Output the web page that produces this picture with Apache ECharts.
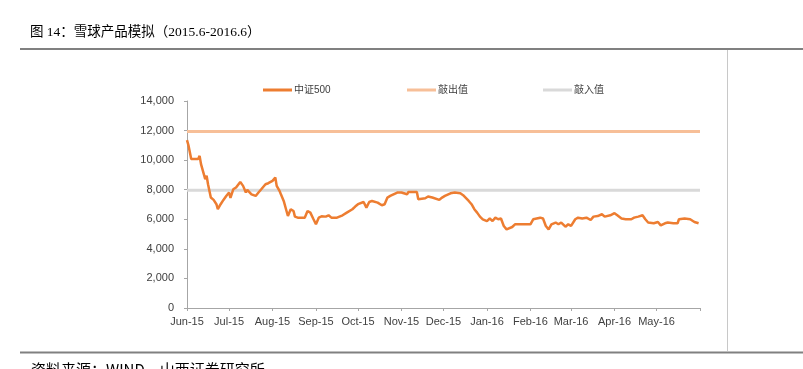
<!DOCTYPE html>
<html>
<head>
<meta charset="utf-8">
<script src="https://cdn.jsdelivr.net/npm/echarts@6/dist/echarts.min.js"></script>
<style>
  html, body { margin: 0; padding: 0; background: #fff; }
  #snowball { width: 803px; height: 369px; }
</style>
</head>
<body>
<div id="snowball"></div>
<script>
// 中证500 走势
var dates = [
    '2015-06-01', '2015-06-02', '2015-06-03', '2015-06-04', '2015-06-09', '2015-06-10', '2015-06-11', '2015-06-13',
    '2015-06-14', '2015-06-15', '2015-06-16', '2015-06-18', '2015-06-20', '2015-06-22', '2015-06-23', '2015-06-25',
    '2015-06-27', '2015-06-29', '2015-06-30', '2015-07-01', '2015-07-02', '2015-07-04', '2015-07-06', '2015-07-09',
    '2015-07-11', '2015-07-13', '2015-07-14', '2015-07-17', '2015-07-20', '2015-07-22', '2015-07-24', '2015-07-27',
    '2015-07-29', '2015-08-01', '2015-08-03', '2015-08-04', '2015-08-06', '2015-08-07', '2015-08-09', '2015-08-11',
    '2015-08-12', '2015-08-14', '2015-08-16', '2015-08-17', '2015-08-19', '2015-08-24', '2015-08-26', '2015-08-28',
    '2015-08-30', '2015-09-01', '2015-09-03', '2015-09-05', '2015-09-08', '2015-09-10', '2015-09-12', '2015-09-16',
    '2015-09-20', '2015-09-23', '2015-09-27', '2015-09-29', '2015-10-01', '2015-10-05', '2015-10-06', '2015-10-07',
    '2015-10-09', '2015-10-11', '2015-10-15', '2015-10-18', '2015-10-20', '2015-10-22', '2015-10-24', '2015-10-29',
    '2015-10-30', '2015-11-01', '2015-11-05', '2015-11-06', '2015-11-12', '2015-11-13', '2015-11-18', '2015-11-20',
    '2015-11-23', '2015-11-28', '2015-11-30', '2015-12-02', '2015-12-06', '2015-12-09', '2015-12-13', '2015-12-15',
    '2015-12-16', '2015-12-19', '2015-12-21', '2015-12-23', '2015-12-25', '2015-12-27', '2015-12-29', '2016-01-01',
    '2016-01-03', '2016-01-05', '2016-01-07', '2016-01-09', '2016-01-11', '2016-01-13', '2016-01-15', '2016-01-16',
    '2016-01-19', '2016-01-21', '2016-02-01', '2016-02-03', '2016-02-08', '2016-02-10', '2016-02-12', '2016-02-14',
    '2016-02-16', '2016-02-19', '2016-02-21', '2016-02-23', '2016-02-26', '2016-02-28', '2016-03-01', '2016-03-04',
    '2016-03-06', '2016-03-09', '2016-03-12', '2016-03-15', '2016-03-17', '2016-03-20', '2016-03-23', '2016-03-25',
    '2016-03-29', '2016-04-01', '2016-04-03', '2016-04-06', '2016-04-09', '2016-04-13', '2016-04-15', '2016-04-18',
    '2016-04-21', '2016-04-23', '2016-04-25', '2016-04-29', '2016-05-02', '2016-05-04', '2016-05-07', '2016-05-09',
    '2016-05-13', '2016-05-16', '2016-05-17', '2016-05-21', '2016-05-25', '2016-05-28', '2016-05-31'
];
var csi500 = [
    11350, 11020, 11080, 10070, 10070, 10290, 9730, 9050,
    8710, 8940, 8370, 7470, 7310, 7020, 6680, 7020,
    7310, 7580, 7470, 7810, 7450, 8030, 8150, 8530,
    8260, 7810, 7990, 7690, 7580, 7810, 8030, 8370,
    8440, 8600, 8830, 8260, 7920, 7690, 7240, 6560,
    6220, 6680, 6560, 6180, 6110, 6110, 6560, 6450,
    6050, 5660, 6110, 6200, 6180, 6270, 6110, 6110,
    6270, 6450, 6680, 6860, 7020, 7170, 7240, 6790,
    7170, 7240, 7130, 6950, 7020, 7470, 7580, 7810,
    7690, 7810, 7690, 7850, 7850, 7360, 7420, 7540,
    7470, 7310, 7470, 7580, 7760, 7810, 7760, 7630,
    7690, 7240, 7020, 6680, 6450, 6180, 6000, 5880,
    6050, 5880, 6110, 6000, 6050, 5550, 5320, 5440,
    5480, 5660, 5660, 6000, 6110, 6050, 5550, 5320,
    5660, 5780, 5660, 5780, 5500, 5660, 5550, 6000,
    6110, 6050, 6110, 5950, 6180, 6220, 6340, 6180,
    6270, 6410, 6270, 6050, 6000, 6000, 6110, 6180,
    6270, 6000, 5780, 5730, 5820, 5590, 5730, 5780,
    5730, 5730, 6000, 6050, 6000, 5820, 5730
];
var knockOut = 11940;   // 敲出值
var knockIn = 7960;     // 敲入值

// 横轴刻度
var monthStarts = ['2015-06-01', '2015-07-01', '2015-08-01', '2015-09-01', '2015-10-01', '2015-11-01',
    '2015-12-01', '2016-01-01', '2016-02-01', '2016-03-01', '2016-04-01', '2016-05-01', '2016-06-01'];
var monthLabels = ['Jun-15', 'Jul-15', 'Aug-15', 'Sep-15', 'Oct-15', 'Nov-15',
    'Dec-15', 'Jan-16', 'Feb-16', 'Mar-16', 'Apr-16', 'May-16'];
var yTicks = [0, 2000, 4000, 6000, 8000, 10000, 12000, 14000];

function toTs(d) {
    var p = d.split('-');
    return Date.UTC(+p[0], +p[1] - 1, +p[2]);
}
var monthTs = monthStarts.map(toTs);
var startTs = monthTs[0];
var endTs = monthTs[monthTs.length - 1];

var chartObj = document.getElementById('snowball');
var snowballChart = echarts.init(chartObj);

var labelFont = "Arial, 'Liberation Sans', 'Noto Sans CJK SC', sans-serif";

var option = {
    animation: false,
    title: {
        text: '图 14：雪球产品模拟（2015.6-2016.6）',
        left: 25,
        top: 21,
        textStyle: {
            color: '#000',
            fontSize: 13.5,
            fontWeight: 'normal',
            fontFamily: "'Liberation Serif', 'Times New Roman', 'Noto Sans CJK SC', serif",
        },
    },
    legend: [
        { left: 258, top: 80, data: ['中证500'] },
        { left: 402, top: 80, data: ['敲出值'] },
        { left: 538, top: 80, data: ['敲入值'] },
    ].map(function (l) {
        l.icon = 'rect';
        l.itemWidth = 29;
        l.itemHeight = 3;
        l.textStyle = { color: '#404040', fontSize: 10, fontFamily: labelFont, padding: [0, 0, 0, -3] };
        return l;
    }),
    grid: {
        left: 187,
        right: 103,
        top: 101,
        bottom: 61,
    },
    xAxis: {
        type: 'value',
        min: startTs,
        max: endTs,
        axisLine: { lineStyle: { color: '#a6a6a6' } },
        axisTick: {
            customValues: monthTs,
            length: 3,
            lineStyle: { color: '#a6a6a6' },
        },
        axisLabel: {
            customValues: monthTs.slice(0, monthLabels.length),
            formatter: function (v) {
                var i = monthTs.indexOf(v);
                return i >= 0 && i < monthLabels.length ? monthLabels[i] : '';
            },
            color: '#404040',
            fontSize: 11,
            fontFamily: labelFont,
            margin: 8,
        },
        splitLine: { show: false },
    },
    yAxis: {
        type: 'value',
        min: yTicks[0],
        max: yTicks[yTicks.length - 1],
        interval: 2000,
        axisLine: { show: true, lineStyle: { color: '#a6a6a6' } },
        axisTick: { show: true, length: 3, lineStyle: { color: '#a6a6a6' } },
        axisLabel: {
            formatter: function (v) { return v.toLocaleString('en-US'); },
            color: '#404040',
            fontSize: 11,
            fontFamily: labelFont,
            margin: 13,
        },
        splitLine: { show: false },
    },
    series: [
        {
            name: '中证500',
            type: 'line',
            z: 4,
            symbol: 'none',
            data: dates.map(function (d, i) { return [toTs(d), csi500[i]]; }),
            itemStyle: { color: '#ED7D31' },
            lineStyle: { color: '#ED7D31', width: 2.5 },
        },
        {
            name: '敲出值',
            type: 'line',
            z: 3,
            symbol: 'none',
            data: [[startTs, knockOut], [endTs, knockOut]],
            itemStyle: { color: '#F7BF98' },
            lineStyle: { color: '#F7BF98', width: 3 },
        },
        {
            name: '敲入值',
            type: 'line',
            z: 3,
            symbol: 'none',
            data: [[startTs, knockIn], [endTs, knockIn]],
            itemStyle: { color: '#D9D9D9' },
            lineStyle: { color: '#D9D9D9', width: 3 },
        }
    ],
    graphic: [
        { type: 'line', shape: { x1: 20, y1: 49, x2: 803, y2: 49 }, style: { stroke: '#808080', lineWidth: 2 } },
        { type: 'line', shape: { x1: 727.5, y1: 50, x2: 727.5, y2: 351 }, style: { stroke: '#c8c8c8', lineWidth: 1 } },
        { type: 'line', shape: { x1: 20, y1: 352.5, x2: 803, y2: 352.5 }, style: { stroke: '#808080', lineWidth: 2 } },
        {
            type: 'text', left: 31, top: 362,
            style: { text: '资料来源：WIND，山西证券研究所', fill: '#000', font: "15px 'Noto Sans CJK SC', sans-serif" }
        }
    ],
};

snowballChart.setOption(option);
</script>
</body>
</html>
